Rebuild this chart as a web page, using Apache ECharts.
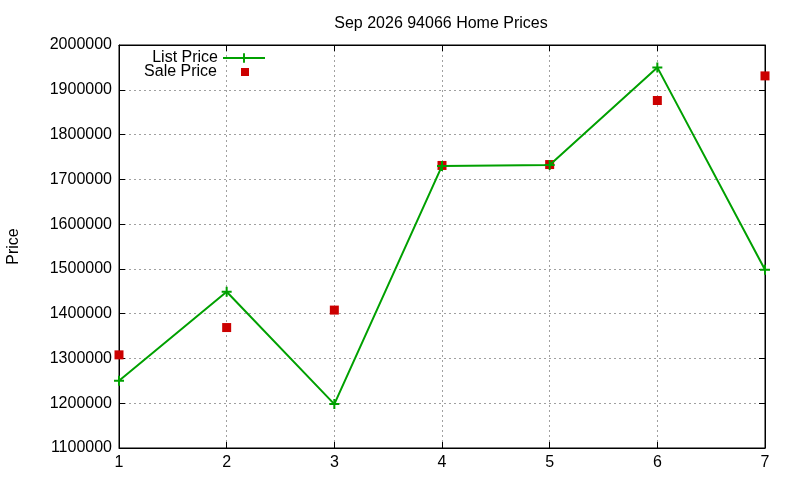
<!DOCTYPE html>
<html lang="en">
<head>
	<meta charset="UTF-8">
	<title>Sep 2026 94066 Home Prices</title>
	<script src="https://cdn.jsdelivr.net/npm/echarts@6/dist/echarts.min.js"></script>
	<style>
		html, body { margin: 0; padding: 0; background: #fff; }
		#chart { width: 800px; height: 480px; }
	</style>
</head>
<body>
	<div id="chart"></div>
	<script>
	// 데이터
	var months = [1, 2, 3, 4, 5, 6, 7];
	var listPrice = [1250000, 1449000, 1198000, 1730000, 1732000, 1950000, 1498000];
	var salePrice = [1308000, 1369000, 1408000, 1731000, 1733000, 1876000, 1931000];
	var yTicks = [1100000, 2000000, 100000]; // min, max, step

	var font = 'Liberation Sans';
	var plusIcon = 'path://M4,0h2v4h4v2h-4v4h-2v-4h-4v-2h4z';

	var listData = months.map(function (m, i) { return [m, listPrice[i]]; });
	var saleData = months.map(function (m, i) { return [m, salePrice[i]]; });

	var gridLine = { show: true, lineStyle: { color: '#a0a0a0', type: [2, 3], width: 1 } };
	var tickIn = { show: true, inside: true, length: 6, lineStyle: { color: '#000' } };

	var chart = echarts.init(document.getElementById('chart'));
	var option = {
		animation: false,
		title: {
			text: 'Sep 2026 94066 Home Prices',
			left: 436,
			textAlign: 'center',
			top: 11,
			textStyle: { fontFamily: font, fontSize: 16, fontWeight: 'normal', color: '#000' }
		},
		legend: [
			{
				data: ['List Price'],
				orient: 'vertical',
				align: 'right',
				right: 529,
				top: 45,
				itemWidth: 42,
				itemHeight: 12,
				textStyle: { fontFamily: font, fontSize: 16, color: '#000' }
			},
			{
				data: [{ name: 'Sale Price', icon: 'rect' }],
				orient: 'vertical',
				align: 'right',
				right: 546,
				top: 59,
				itemWidth: 8,
				itemHeight: 8,
				textStyle: { fontFamily: font, fontSize: 16, color: '#000', padding: [0, 19, 0, 0] }
			}
		],
		grid: {
			left: 119, right: 35, top: 45, bottom: 32,
			outerBoundsMode: 'none',
			containLabel: false,
			show: true, borderColor: '#000', borderWidth: 1
		},
		xAxis: [
			{
				type: 'value', min: months[0], max: months[months.length - 1], interval: 1,
				axisLine: { show: true, lineStyle: { color: '#000' } },
				axisTick: tickIn,
				splitLine: gridLine,
				axisLabel: { fontFamily: font, fontSize: 16, color: '#000', margin: 7 }
			},
			{
				type: 'value', position: 'top', min: months[0], max: months[months.length - 1], interval: 1,
				axisLine: { show: true, lineStyle: { color: '#000' } },
				axisTick: tickIn, splitLine: { show: false }, axisLabel: { show: false }
			}
		],
		yAxis: [
			{
				type: 'value', min: yTicks[0], max: yTicks[1], interval: yTicks[2],
				name: 'Price', nameLocation: 'middle', nameGap: 97, nameRotate: 90,
				nameTextStyle: { fontFamily: font, fontSize: 16, color: '#000' },
				axisLine: { show: true, lineStyle: { color: '#000' } },
				axisTick: tickIn,
				splitLine: gridLine,
				axisLabel: {
					fontFamily: font, fontSize: 16, color: '#000', margin: 7,
					formatter: function (v) { return String(v); }
				}
			},
			{
				type: 'value', position: 'right', min: yTicks[0], max: yTicks[1], interval: yTicks[2],
				axisLine: { show: true, lineStyle: { color: '#000' } },
				axisTick: tickIn, splitLine: { show: false }, axisLabel: { show: false }
			}
		],
		series: [
			{
				name: 'List Price',
				type: 'line',
				data: listData,
				symbol: plusIcon,
				symbolSize: 10,
				showAllSymbol: true,
				itemStyle: { color: '#00a000' },
				lineStyle: { color: '#00a000', width: 2 }
			},
			{
				name: 'Sale Price',
				type: 'scatter',
				data: saleData,
				symbol: 'rect',
				symbolSize: 9,
				itemStyle: { color: '#cc0000', opacity: 1 }
			}
		]
	};
	chart.setOption(option);
	</script>
</body>
</html>
